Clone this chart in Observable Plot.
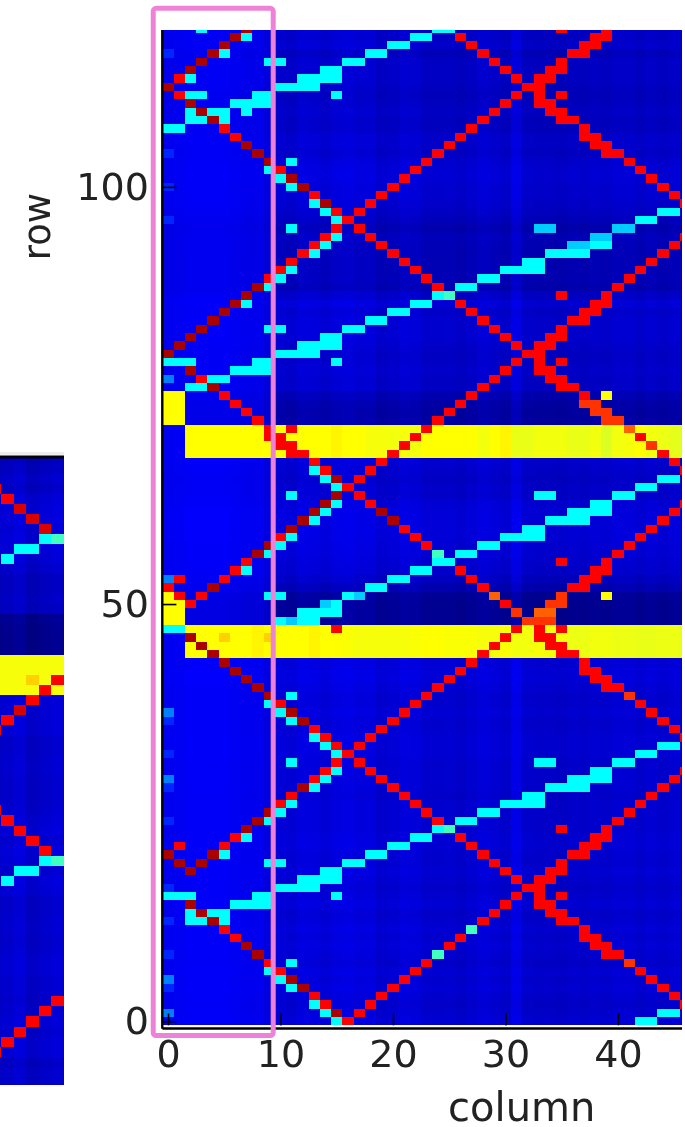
<!DOCTYPE html>
<html>
<head>
<meta charset="utf-8">
<script src="https://cdn.jsdelivr.net/npm/d3@7"></script>
<script src="https://cdn.jsdelivr.net/npm/@observablehq/plot@0.6"></script>
<style>
html,body{margin:0;padding:0;background:#fff;}
#page{position:relative;width:685px;height:1127px;overflow:hidden;}
#page svg{position:absolute;left:0;top:0;filter:blur(.55px);background:transparent;overflow:visible;}
</style>
</head>
<body>
<div id="page"></div>
<script>
// colour scale stops (jet)
const stopValues = [0, .11, .125, .36, .65, .9, 1];
const stopColors = ["#000080", "#0000ff", "#0000ff", "#00ffff", "#ffff00", "#ff0000", "#800000"];

// cell levels
const levels = {red: .9, dark: .966, cyan: .36, azure: .313, deepAzure: .2425, weak: .16, teal: .4325, yellow: .65, orange: .805, orangeRed: .85, gold: .695};

// main panel: each entry is [row, ...columns]
const redCells = [[119,35,39],[118,26,38,39],[117,27,37,38],[116,28,36,37],[115,29,35],[114,30,34,35],[113,1,31,33,34],[112,32,33],[111,1,31,33,35],[110,30,33,34],[109,29,34,35],[108,28,35,36],[107,5,27,37],[106,6,26,37,38],[105,25,38,39],[104,24,39,40],[103,23,41],[102,10,22,42],[101,21,43],[100,20,44],[99,13,19,45],[98,18,46],[97,15,17],[96,16],[95,15,17],[94,14,18,46],[93,13,19,45],[92,12,20,44],[91,11,21,43],[90,10,22,42],[89,9,23,41],[88,24,40],[87,35,39],[86,26,38,39],[85,27,37,38],[84,28,36,37],[83,29,35],[82,30,34,35],[81,31,33,34],[80,32,33],[79,31,33,35],[78,30,33,34],[77,3,29,34,35],[76,28,35,36],[75,5,27,37],[74,6,26],[73,7,25],[72,8,24],[71,9,11,23],[70,9,10,22,42],[69,10,11,21],[68,11,12,20,44],[67,13,19,45],[66,14,18,46],[65,17],[64,16],[63,17],[62,18,46],[61,45],[60,44],[59,21,43],[58,10,22,42],[57,23,41],[56,40],[55,7,35,39],[54,6,26,38,39],[53,1,5,27,37,38],[52,0,28,36,37],[51,1,3],[50,2,30],[47,15,31,33,35],[46,30,33,34],[45,29,34,35],[44,28,35,36],[43,27,37],[42,26,37,38],[41,25,38,39],[40,24,39,40],[39,23],[38,10,22,42],[37,21,43],[36,20,44],[35,13,19,45],[34,14,18,46],[33,15,17],[32,16],[31,15,17],[30,14,18,46],[29,13,19,45],[28,20,44],[27,11,21,43],[26,10,22,42],[25,23,41],[24,24,40],[23,35,39],[22,6,26,38,39],[21,1,5,27,37,38],[20,28,36,37],[19,29,35],[18,30,34,35],[17,31,33,34],[16,32,33],[15,31,33,35],[14,30,33,34],[13,29,34,35],[12,28,35,36],[11,5,37],[10,6,26,37,38],[9,25,38,39],[8,39,40],[7,9,23],[6,10,22,42],[5,21,43],[4,20,44],[3,13,19,45],[2,14,18,46],[1,17],[0,16]];
const darkCells = [[119,7],[118,6],[117,5],[116,4],[115,3],[114,2],[112,0],[110,2],[109,3],[108,4],[105,7],[104,8],[103,9],[101,11],[100,12],[98,14],[88,8],[87,7],[86,6],[85,5],[84,4],[83,3],[82,2],[81,1],[80,0],[78,2],[76,4],[65,15],[63,15],[62,14],[61,13,19],[60,12,20],[59,11],[57,9],[56,8],[52,4],[46,2],[45,3],[44,4],[43,5],[42,6],[41,7],[40,8],[39,9],[37,11],[36,12],[28,12],[25,9],[24,8],[23,7],[20,0,4],[19,1,3],[18,2],[14,2],[13,3],[12,4],[9,7],[8,8],[5,11],[4,12],[1,15]];
const cyanCells = [[119,3,24,25],[118,7,22,23],[117,20,21],[116,5,18,19],[115,9,10,16,17],[114,14,15],[113,2,12,13,14,15],[112,10,11,12,13],[111,2,3,8,9,15],[110,6,7,8,9],[109,2,4,5,7],[108,2,3,5],[107,0,1],[103,11],[102,9],[101,10],[100,11],[98,13],[97,14,44,45],[96,15,42,43],[95,11],[94,15],[93,14,38,39],[92,13,34,35,36,37],[91,32,33],[90,11,30,31,32,33],[89,10,28,29],[88,9,26,27],[87,24],[86,7,22,23],[85,20,21],[84,18,19],[83,9,10,16,17],[82,14,15],[81,12,13,14,15],[80,10,11,12,13],[79,0,1,2,8,9,15],[78,6,7,8,9],[77,4,5],[76,2,3],[66,13],[65,14,44,45],[64,15,42,43],[63,11,33,34,40,41],[62,15,38,39],[61,14,36,37,38,39],[60,13,34,35,36,37],[59,32,33],[58,11,30,31,32,33],[57,10,28,29],[56,9,26,27],[55,24,25],[54,7,22,23],[53,20,21],[52,18,19],[51,9,10,16],[50,15],[49,12,13,14,15],[48,10,12,13],[47,0,1],[39,11],[38,9],[37,10],[36,11],[34,13],[33,14,44,45],[32,15,42,43],[31,11,33,34,40,41],[30,15,38,39],[29,14,36,37,38,39],[28,13,34,35,36,37],[27,32,33],[26,11,30,31,32,33],[25,10,28,29],[24,9,26,27],[23,24],[22,7,22,23],[21,20,21],[20,5,18,19],[19,9,10,16,17],[18,14,15],[17,12,13,14,15],[16,10,11,12,13],[15,0,1,2,8,9,15],[14,6,7,8,9],[13,2,4,5],[12,2,3,5],[7,11],[6,9],[5,10],[4,11],[2,13],[1,14,44,45],[0,15,42,43]];
const azureCells = [[95,33,34,40,41],[94,38,39],[93,36,37],[50,14],[48,11],[51,17]];
const deepAzureCells = [[77,0],[53,0],[37,0],[29,0],[5,0],[1,0]];
const weakCells = [[116,0],[104,0],[100,0],[96,0],[36,0],[32,0],[28,0],[24,0],[16,0],[12,0],[8,0],[4,0]];
const tealCells = [[87,25],[56,24],[23,25],[11,27],[8,24]];
const yellowCells = [[75,0,1,39],[74,0,1],[73,0,1],[72,0,1],[51,0,39],[50,0,1],[49,0,1],[48,0,1]];
const orangeCells = [[71,41],[51,29],[49,33,34]];
const orangeRedCells = [[74,37,38],[73,38,39],[72,39,40],[69,43],[51,35],[50,34,35],[49,31],[48,32,33,34],[39,41],[7,41]];
const goldCells = [[46,5,9]];

// yellow bands
const upperBandRows = [68,69,70,71];
const lowerBandRows = [44,45,46,47];
const bandFirstColumn = 2;
const upperBandValues = [.65,.65,.65,.65,.65,.65,.65,.65,.65,.65,.65,.65,.65,.66,.65,.65,.64,.64,.635,.64,.635,.65,.65,.65,.65,.65,.635,.65,.66,.625,.625,.635,.635,.635,.625,.625,.635,.61,.635,.64,.65,.635,.63,.62,.615];
const lowerBandValues = [.65,.65,.65,.65,.65,.65,.66,.65,.65,.65,.65,.66,.65,.65,.645,.64,.64,.64,.64,.64,.645,.65,.65,.645,.645,.645,.64,.64,.645,.635,.635,.64,.64,.64,.63,.63,.635,.635,.63,.63,.625,.625,.63,.63,.625];

// background: blue level per column and blue offset per row
const columnBlue = [240,245,250,250,250,250,245,240,240,225,220,215,228,225,218,228,232,225,225,210,215,225,222,210,210,212,205,212,222,215,208,235,208,205,205,202,208,205,210,208,215,215,208,215,208,215,210];
const rowBlueOffset = [0,-5,-10,-5,0,-5,0,-10,-5,0,-5,0,-5,-10,0,-5,-10,-5,0,-5,-5,0,0,-5,-5,-5,-5,-10,-5,-5,-5,-5,0,0,0,-5,-5,0,-5,-5,0,5,5,0,0,0,0,0,-65,-65,-65,-60,-35,-20,-10,-5,0,0,5,5,5,5,0,-10,-10,-15,-10,-5,0,0,0,0,-50,-50,-45,-35,-15,-15,-10,-15,-15,-10,-5,-5,-5,-10,0,-15,-35,-30,-30,-30,-30,-30,-25,-35,-25,-15,-10,-5,-5,0,0,-5,-15,-10,-10,-20,-20,-15,-20,-25,-20,-15,-15,-15,-25,-10,-15,-10];
const leftColumnsFade = .35;

// left panel: each entry is [row, ...columns]
const leftRedCells = [[3,-1],[4,0],[22,4],[23,3],[24,2],[26,0],[27,-1],[35,-1],[36,0],[37,1],[38,2],[39,3],[54,4],[55,3],[56,2],[57,1],[58,0],[59,-1]];
const leftDimRedCells = [[5,1],[6,2],[7,3],[25,1]];
const leftCyanCells = [[8,3],[9,1,2],[10,0],[40,3],[41,1,2],[42,0]];
const leftTealCells = [[8,4],[40,4]];
const leftBandRows = [20,21,22,23];
const leftGoldCells = [[22,2]];
const leftColumnBlue = [210,215,225,205,215,222];
const leftRowBlueOffset = [-30,-25,-15,-20,-5,0,0,-5,0,0,-5,-15,-25,-25,-20,-25,-70,-75,-75,-75,0,0,0,0,-5,-5,-5,-5,-15,-15,-10,-10,-15,-15,-15,-10,-5,0,-10,0,-5,-10,0,-5,-15,-15,-10,-10,-15,-10,-5,-5,-10,-10,-15,-10,-5,-10,-5,-5,-20,-15,-15];
const leftBandValue = .64;

// axes
const columnTicks = [0,10,20,30,40];
const rowTicks = [0,50,100];
const highlight = [{x1:-1.316, x2:9.351, y1:-1.714, y2:121.4}];

const blueToValue = b => (b / 255 - .5) / .5 * .11;
const paint = (grid, rows, v) => rows.forEach(([r, ...cols]) => cols.forEach(c => grid.set(r + "," + c, v)));

// main table
const grid = new Map();
upperBandRows.forEach(r => upperBandValues.forEach((v, i) => grid.set(r + "," + (i + bandFirstColumn), v)));
lowerBandRows.forEach(r => lowerBandValues.forEach((v, i) => grid.set(r + "," + (i + bandFirstColumn), v)));
paint(grid, weakCells, levels.weak);
paint(grid, deepAzureCells, levels.deepAzure);
paint(grid, azureCells, levels.azure);
paint(grid, cyanCells, levels.cyan);
paint(grid, tealCells, levels.teal);
paint(grid, yellowCells, levels.yellow);
paint(grid, goldCells, levels.gold);
paint(grid, orangeCells, levels.orange);
paint(grid, orangeRedCells, levels.orangeRed);
paint(grid, redCells, levels.red);
paint(grid, darkCells, levels.dark);
const cells = [];
rowBlueOffset.forEach((off, r) => columnBlue.forEach((blue, c) => {
  const k = r + "," + c;
  const b = Math.max(128, Math.min(255, blue + off * (c < 10 ? leftColumnsFade : 1)));
  cells.push({r, c, v: grid.has(k) ? grid.get(k) : blueToValue(b)});
}));

// left table
const leftGrid = new Map();
leftBandRows.forEach(r => leftColumnBlue.forEach((_, i) => leftGrid.set(r + "," + (i - 1), leftBandValue)));
paint(leftGrid, leftGoldCells, levels.gold);
paint(leftGrid, leftCyanCells, levels.cyan);
paint(leftGrid, leftTealCells, levels.teal);
paint(leftGrid, leftRedCells, levels.red);
paint(leftGrid, leftDimRedCells, .93);
const leftCells = [];
leftRowBlueOffset.forEach((off, r) => leftColumnBlue.forEach((blue, i) => {
  const c = i - 1, k = r + "," + c;
  leftCells.push({r, c, v: leftGrid.has(k) ? leftGrid.get(k) : blueToValue(Math.max(128, Math.min(255, blue + off)))});
}));

const colorScale = {type: "linear", domain: stopValues, range: stopColors};
const font = "'DejaVu Sans', sans-serif";

const leftChart = Plot.plot({
  width: 64, height: 1127, marginLeft: 0, marginRight: 0, marginTop: 458, marginBottom: 42,
  style: {background: "transparent"},
  x: {domain: [-.579, 4.5], range: [0, 64], axis: null},
  y: {domain: [.43, 62.82], range: [458, 1085], axis: null},
  color: colorScale,
  marks: [
    Plot.rect(leftCells, {x1: d => d.c - .5, x2: d => d.c + .5, y1: "r", y2: d => d.r + 1, fill: "v", clip: true, shapeRendering: "crispEdges"}),
    Plot.ruleY([.43], {dy: -5, stroke: "#eeeeee", strokeWidth: 3}),
    Plot.ruleY([.43], {dy: -1.5, stroke: "#000", strokeWidth: 3})
  ]
});

const chart = Plot.plot({
  width: 685, height: 1127, marginLeft: 162.4, marginRight: 3, marginTop: 30, marginBottom: 101.6,
  style: {background: "transparent", fontFamily: font},
  x: {domain: [-.5, 45.69], range: [162.4, 682]},
  y: {domain: [-.5, 118.8], range: [1025.4, 30]},
  color: colorScale,
  marks: [
    Plot.rect(cells, {x1: d => d.c - .5, x2: d => d.c + .5, y1: d => d.r - .5, y2: d => d.r + .5, fill: "v", clip: true, shapeRendering: "crispEdges"}),
    Plot.ruleX([-.5], {y1: -.9, y2: 118.8, stroke: "#000", strokeWidth: 2.4, dx: -.6}),
    Plot.ruleY([-.5], {stroke: "#000", strokeWidth: 2.6, dy: 2.6}),
    Plot.axisX(columnTicks, {anchor: "bottom", label: null, tickSize: -12, tickPadding: 26, strokeWidth: 1.6, stroke: "#000", fontSize: 38, fill: "#222", tickFormat: d => String(d)}),
    Plot.axisY(rowTicks, {anchor: "left", label: null, tickSize: -14, tickPadding: 28, strokeWidth: 1.6, stroke: "#000", fontSize: 38, fill: "#222", tickFormat: d => String(d)}),
    Plot.text(["column"], {x: [31.4], frameAnchor: "bottom", dy: 95, text: d => d, fontSize: 40, fill: "#222"}),
    Plot.text(["row"], {y: [95.3], frameAnchor: "left", textAnchor: "middle", dx: -125, rotate: -90, text: d => d, fontSize: 37, fill: "#222"}),
    Plot.rect(highlight, {x1: "x1", x2: "x2", y1: "y1", y2: "y2", fill: "none", stroke: "#ee82d8", strokeWidth: 5, rx: 3})
  ]
});

const page = document.getElementById("page");
page.appendChild(leftChart);
page.appendChild(chart);
</script>
</body>
</html>
